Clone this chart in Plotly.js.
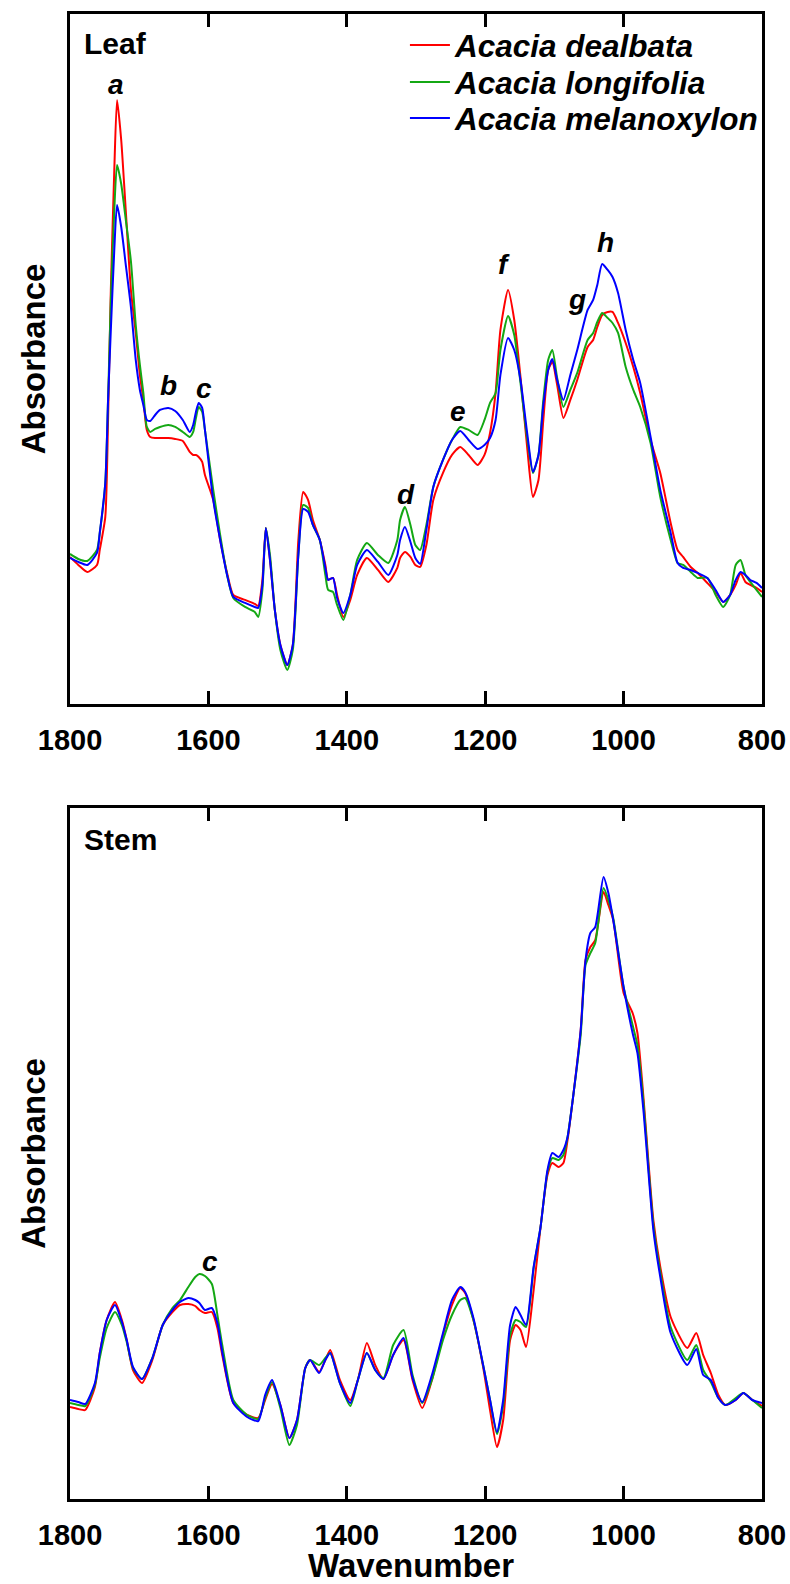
<!DOCTYPE html>
<html>
<head>
<meta charset="utf-8">
<script src="https://cdn.plot.ly/plotly-3.0.1.min.js"></script>
<style>html,body{margin:0;padding:0;background:#fff;}#chart{width:790px;height:1584px;}</style>
</head>
<body>
<div id="chart"></div>
<script>
// ---------- Data (absorbance, arbitrary units) ----------
const seriesNames = ["Acacia dealbata", "Acacia longifolia", "Acacia melanoxylon"];
const seriesColors = ["#ff0000", "#14a814", "#0000ff"];

// Leaf panel
const leafWavenumber = [1800,1788,1775,1761,1757,1749,1745,1741,1736,1732,
  1726,1719,1712,1705,1699,1694,1689,1684,1677,1670,
  1658,1648,1637,1627,1622,1618,1614,1609,1605,1593,
  1583,1573,1564,1547,1533,1528,1522,1517,1511,1504,
  1496,1486,1478,1470,1463,1456,1449,1439,1431,1427,
  1420,1414,1405,1395,1385,1371,1355,1340,1327,1323,
  1316,1308,1301,1294,1285,1275,1261,1248,1236,1224,
  1211,1201,1193,1185,1178,1167,1158,1149,1139,1131,
  1123,1116,1109,1103,1096,1087,1077,1067,1052,1044,
  1038,1031,1023,1016,1008,997,986,976,961,947,
  932,922,914,903,893,879,867,856,846,838,
  831,824,817,808,800];
const leafDealbata = [.147,.139,.132,.139,.154,.187,.284,.414,.534,.604,
  .564,.489,.414,.371,.329,.304,.274,.267,.266,.266,
  .266,.265,.263,.252,.249,.249,.247,.242,.229,.204,
  .164,.131,.109,.104,.100,.098,.124,.176,.144,.094,
  .059,.039,.059,.164,.212,.204,.184,.164,.139,.124,
  .126,.109,.087,.104,.129,.146,.134,.122,.136,.146,
  .152,.147,.139,.137,.159,.204,.231,.249,.257,.249,
  .239,.249,.271,.311,.374,.414,.384,.327,.254,.207,
  .224,.284,.334,.342,.319,.286,.304,.324,.357,.364,
  .377,.389,.392,.392,.381,.361,.337,.311,.264,.231,
  .181,.154,.147,.137,.131,.121,.112,.102,.109,.119,
  .131,.122,.119,.116,.112];
const leafLongifolia = [.150,.145,.143,.154,.171,.221,.304,.404,.494,.539,
  .520,.482,.443,.379,.339,.311,.277,.272,.275,.277,
  .279,.277,.272,.267,.272,.286,.297,.292,.274,.214,
  .169,.129,.106,.097,.092,.087,.114,.176,.149,.094,
  .054,.034,.054,.149,.199,.196,.179,.164,.129,.114,
  .112,.099,.084,.109,.144,.161,.149,.141,.164,.184,
  .197,.179,.159,.154,.179,.217,.244,.264,.277,.274,
  .269,.284,.301,.311,.354,.388,.369,.321,.264,.231,
  .249,.304,.344,.354,.326,.297,.314,.331,.364,.371,
  .382,.391,.386,.381,.371,.337,.314,.297,.261,.207,
  .164,.141,.139,.132,.126,.126,.109,.097,.109,.139,
  .144,.129,.122,.114,.107];
const leafMelanoxylon = [.146,.142,.139,.151,.171,.221,.304,.374,.454,.499,
  .477,.437,.397,.344,.314,.299,.284,.283,.289,.294,
  .296,.293,.284,.272,.279,.292,.301,.296,.274,.204,
  .164,.129,.107,.101,.097,.096,.119,.176,.144,.094,
  .059,.039,.059,.149,.195,.192,.179,.164,.136,.124,
  .126,.106,.091,.109,.139,.154,.142,.129,.149,.164,
  .177,.162,.146,.140,.174,.217,.244,.264,.273,.264,
  .255,.259,.266,.284,.329,.366,.354,.324,.269,.232,
  .249,.299,.334,.345,.324,.304,.329,.354,.394,.404,
  .419,.440,.434,.427,.411,.374,.344,.321,.267,.214,
  .171,.141,.136,.134,.131,.126,.114,.102,.109,.124,
  .132,.129,.124,.121,.116];

// Stem panel
const stemWavenumber = [1800,1788,1778,1764,1757,1747,1735,1725,1718,1709,
  1696,1681,1666,1652,1641,1629,1619,1613,1605,1595,
  1587,1580,1564,1544,1528,1518,1508,1496,1483,1472,
  1460,1453,1440,1431,1424,1410,1395,1384,1371,1359,
  1347,1333,1318,1305,1291,1277,1261,1248,1236,1229,
  1217,1203,1193,1183,1174,1164,1156,1149,1141,1130,
  1120,1110,1103,1094,1087,1081,1073,1062,1055,1048,
  1041,1029,1022,1015,1000,987,980,971,964,957,
  947,932,908,895,885,874,863,853,838,827,
  814,800];
const stemDealbata = [.092,.090,.089,.112,.146,.179,.197,.179,.159,.129,
  .116,.139,.174,.187,.194,.195,.193,.189,.186,.187,
  .171,.144,.096,.084,.081,.099,.115,.094,.061,.079,
  .131,.139,.127,.139,.149,.119,.099,.119,.156,.134,
  .120,.144,.159,.119,.091,.119,.164,.194,.211,.206,
  .179,.132,.089,.052,.079,.159,.174,.169,.152,.209,
  .272,.324,.336,.332,.336,.359,.402,.469,.539,.552,
  .559,.607,.594,.579,.506,.486,.466,.399,.336,.279,
  .232,.182,.151,.166,.144,.126,.104,.094,.099,.106,
  .099,.093];
const stemLongifolia = [.096,.094,.093,.114,.141,.171,.187,.174,.157,.131,
  .120,.141,.174,.191,.199,.212,.222,.225,.223,.215,
  .184,.154,.099,.084,.080,.101,.117,.091,.054,.074,
  .131,.139,.134,.141,.146,.116,.093,.119,.146,.129,
  .121,.154,.169,.124,.096,.119,.159,.184,.199,.201,
  .179,.134,.099,.065,.094,.164,.179,.177,.172,.231,
  .272,.327,.341,.339,.344,.362,.402,.464,.534,.546,
  .556,.611,.599,.581,.512,.474,.454,.394,.331,.274,
  .227,.172,.139,.154,.129,.117,.101,.094,.101,.106,
  .099,.091];
const stemMelanoxylon = [.099,.097,.095,.116,.146,.179,.194,.177,.159,.132,
  .120,.141,.174,.189,.197,.201,.199,.196,.189,.191,
  .176,.147,.096,.082,.078,.104,.119,.094,.061,.079,
  .131,.139,.126,.139,.146,.116,.096,.119,.146,.129,
  .120,.144,.161,.121,.097,.124,.166,.199,.212,.207,
  .181,.134,.099,.067,.099,.174,.192,.184,.174,.232,
  .272,.329,.346,.342,.349,.362,.402,.469,.539,.566,
  .572,.622,.606,.579,.512,.466,.446,.386,.326,.269,
  .222,.166,.134,.150,.124,.119,.101,.094,.099,.106,
  .099,.096];

// Tick labels
const tickValues = [1800, 1600, 1400, 1200, 1000, 800];
const tickLabels = ["1800", "1600", "1400", "1200", "1000", "800"];

// Band labels (letter, wavenumber, absorbance)
const leafBands = [["a",1733,0.619],["b",1657,0.318],["c",1606,0.315],["d",1314,0.209],
  ["e",1240,0.292],["f",1173,0.439],["g",1068,0.404],["h",1026,0.461]];
const stemBands = [["c",1598,0.238]];

// ---------- Figure ----------
const FONT = "Liberation Sans, Arial, Helvetica, sans-serif";
const leafSeries = [leafDealbata, leafLongifolia, leafMelanoxylon];
const stemSeries = [stemDealbata, stemLongifolia, stemMelanoxylon];
const legendIds = ["legend", "legend2", "legend3"];
const traces = [];
leafSeries.forEach((ys, i) => traces.push({
  x: leafWavenumber, y: ys, type: "scatter", mode: "lines", name: seriesNames[i],
  line: {color: seriesColors[i], width: 2, shape: "spline", smoothing: 0.6},
  xaxis: "x", yaxis: "y", showlegend: true, legend: legendIds[i], hoverinfo: "skip"
}));
stemSeries.forEach((ys, i) => traces.push({
  x: stemWavenumber, y: ys, type: "scatter", mode: "lines", name: seriesNames[i],
  line: {color: seriesColors[i], width: 2, shape: "spline", smoothing: 0.6},
  xaxis: "x2", yaxis: "y2", showlegend: false, hoverinfo: "skip"
}));

function xAxis(anchor) {
  return {
    anchor: anchor, domain: [0, 1], range: [1800, 800], autorange: false,
    tickmode: "array", tickvals: tickValues, ticktext: tickLabels,
    ticks: "inside", ticklen: 13, tickwidth: 3, tickcolor: "#000",
    showline: true, linewidth: 3, linecolor: "#000", mirror: "ticks",
    showgrid: false, zeroline: false,
    tickfont: {family: FONT, size: 29, color: "#000", weight: "bold"},
    ticklabelstandoff: 8
  };
}
function yAxis(anchor, domain, top) {
  return {
    anchor: anchor, domain: domain, range: [0, top], autorange: false,
    showline: true, linewidth: 3, linecolor: "#000", mirror: true,
    ticks: "", showticklabels: false, showgrid: false, zeroline: false,
    title: {text: "Absorbance", font: {family: FONT, size: 33, color: "#000", weight: "bold"}, standoff: 12}
  };
}

const annotations = [];
leafBands.forEach(b => annotations.push({
  xref: "x", yref: "y", x: b[1], y: b[2], text: b[0], showarrow: false,
  font: {family: FONT, size: 28, color: "#000", weight: "bold", style: "italic"}
}));
stemBands.forEach(b => annotations.push({
  xref: "x2", yref: "y2", x: b[1], y: b[2], text: b[0], showarrow: false,
  font: {family: FONT, size: 28, color: "#000", weight: "bold", style: "italic"}
}));
annotations.push({xref: "x domain", yref: "y domain", x: 0.018, y: 0.957, xanchor: "left", yanchor: "middle",
  text: "Leaf", showarrow: false, font: {family: FONT, size: 30, color: "#000", weight: "bold"}});
annotations.push({xref: "x2 domain", yref: "y2 domain", x: 0.018, y: 0.955, xanchor: "left", yanchor: "middle",
  text: "Stem", showarrow: false, font: {family: FONT, size: 30, color: "#000", weight: "bold"}});
// x-axis title of the lower panel
annotations.push({xref: "paper", yref: "paper", x: 0.493, y: -0.0450, xanchor: "center", yanchor: "middle",
  text: "Wavenumber", showarrow: false,
  font: {family: FONT, size: 33, color: "#000", weight: "bold"}});

function legendBox(yPaper) {
  return {
    x: 0.484, y: yPaper, xanchor: "left", yanchor: "middle",
    bgcolor: "rgba(0,0,0,0)", borderwidth: 0,
    font: {family: FONT, size: 31.5, color: "#000", weight: "bold", style: "italic"},
    itemwidth: 40
  };
}

const layout = {
  width: 790, height: 1584,
  margin: {l: 70, r: 28, t: 14, b: 85, pad: 0},
  paper_bgcolor: "#fff", plot_bgcolor: "#fff",
  showlegend: true,
  legend: legendBox(0.9791),
  legend2: legendBox(0.9542),
  legend3: legendBox(0.9300),
  xaxis: xAxis("y"),
  yaxis: yAxis("x", [0.5354, 1], 0.690),
  xaxis2: xAxis("y2"),
  yaxis2: yAxis("x2", [0, 0.4653], 0.691),
  annotations: annotations
};

Plotly.newPlot("chart", traces, layout, {staticPlot: true, displayModeBar: false});
</script>
</body>
</html>
